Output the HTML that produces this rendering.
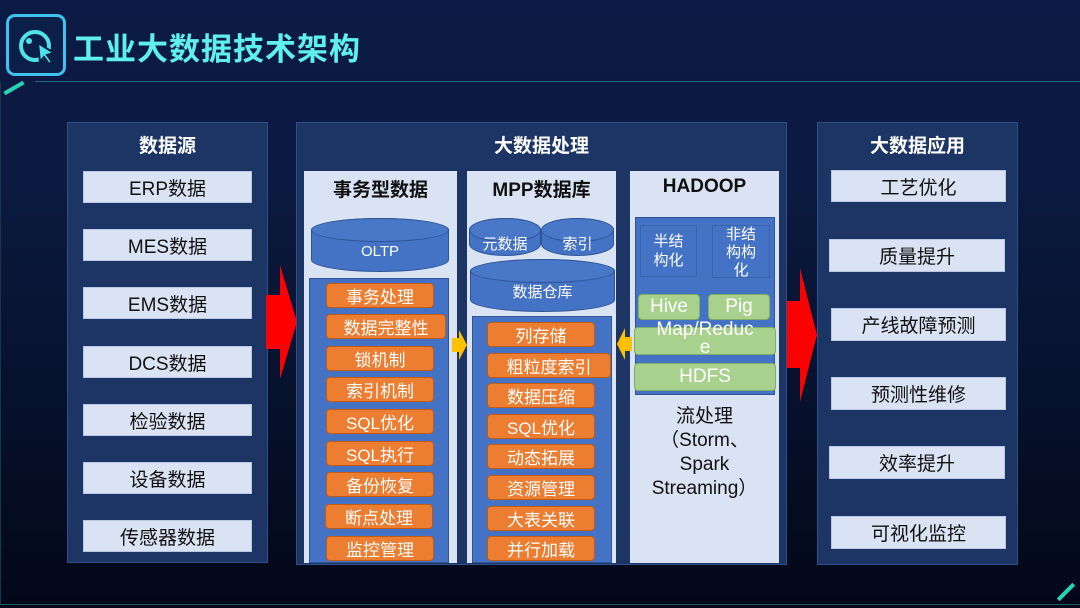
<!DOCTYPE html><html><head><meta charset="utf-8"><style>
*{margin:0;padding:0;box-sizing:border-box}
body{width:1080px;height:608px;overflow:hidden;position:relative;font-family:"Liberation Sans","Noto Sans CJK SC",sans-serif;background:linear-gradient(180deg,#0c1b45 0%,#0b1a40 30%,#06102a 70%,#030818 100%)}
.a{position:absolute}
.pan{position:absolute;background:#1c3564;border:1px solid #2e4f8a}
.it{position:absolute;background:#dae3f3;border:1px solid #b7c6e2;color:#111;font-size:19px;text-align:center;display:flex;align-items:center;justify-content:center}
.ttl{position:absolute;color:#fff;font-weight:bold;font-size:19px;text-align:center}
.col{position:absolute;background:#dae3f3}
.ct{position:absolute;font-weight:bold;font-size:19px;color:#111;text-align:center;width:100%;top:4px}
.blue{position:absolute;background:#4472c4;border:1px solid #2f5597}
.or{position:absolute;background:#ed7d31;border:1px solid #c55a11;border-radius:4px;color:#fff;font-size:17px;text-align:center;display:flex;align-items:center;justify-content:center;height:25px}
.gr{position:absolute;background:#a9d18e;border:1px solid #7fae62;border-radius:4px;color:#fff;font-size:19px;text-align:center;display:flex;align-items:center;justify-content:center;line-height:18px}
.cyl{position:absolute;background:#4472c4;border:1px solid #2f5597;border-radius:50%/12px;color:#fff;font-size:15px;display:flex;align-items:center;justify-content:center}
.cyl:before{content:"";position:absolute;left:-1px;right:-1px;top:-1px;height:22px;border-radius:50%;border:1px solid #2f5597;background:#4a78c8}
.cyl span{position:relative;top:6px}
</style></head><body>
<div class="a" style="left:6px;top:14px;width:60px;height:62px;border:3px solid #3fc3ee;border-radius:9px;background:#0c1f48"></div>
<svg class="a" style="left:16px;top:27px" width="42" height="40" viewBox="0 0 42 40"><circle cx="19" cy="19" r="14" fill="none" stroke="#4fe3e8" stroke-width="4"/><path d="M22 16 L38 26 L31 28 L36 35 L33 37 L28 30 L24 35Z" fill="#4fe3e8" stroke="#0c1f48" stroke-width="2"/><circle cx="13" cy="14" r="3" fill="#4fe3e8"/></svg>
<div class="a" style="left:73px;top:24px;color:#5ff0ec;font-size:31px;font-weight:bold;letter-spacing:1px">工业大数据技术架构</div>
<div class="a" style="left:35px;top:81px;width:1045px;height:1px;background:#1f6b7a"></div>
<div class="a" style="left:0;top:81px;width:1px;height:523px;background:#12384a"></div>
<div class="a" style="left:0;top:604px;width:1080px;height:1px;background:#1a5a68"></div>
<div class="a" style="left:3px;top:86px;width:22px;height:4px;background:#2ad3b0;transform:rotate(-30deg)"></div>
<div class="a" style="left:1055px;top:590px;width:22px;height:4px;background:#2ad3b0;transform:rotate(-45deg)"></div>

<div class="pan" style="left:67px;top:122px;width:201px;height:441px"></div>
<div class="ttl" style="left:67px;top:131px;width:201px">数据源</div>
<div class="it" style="left:83px;top:171px;width:169px;height:32px">ERP数据</div>
<div class="it" style="left:83px;top:229px;width:169px;height:32px">MES数据</div>
<div class="it" style="left:83px;top:287px;width:169px;height:32px">EMS数据</div>
<div class="it" style="left:83px;top:346px;width:169px;height:32px">DCS数据</div>
<div class="it" style="left:83px;top:404px;width:169px;height:32px">检验数据</div>
<div class="it" style="left:83px;top:462px;width:169px;height:32px">设备数据</div>
<div class="it" style="left:83px;top:520px;width:169px;height:32px">传感器数据</div>

<svg class="a" style="left:266px;top:265px" width="32" height="115"><polygon points="0,30 14,30 14,0 31,57 14,114 14,84 0,84" fill="#ff0000"/></svg>
<svg class="a" style="left:786px;top:268px" width="32" height="135"><polygon points="0,33 14,33 14,0 31,67 14,134 14,100 0,100" fill="#ff0000"/></svg>

<div class="pan" style="left:296px;top:122px;width:491px;height:443px"></div>
<div class="ttl" style="left:296px;top:131px;width:491px">大数据处理</div>

<div class="col" style="left:304px;top:171px;width:153px;height:392px"><div class="ct">事务型数据</div></div>
<div class="cyl" style="left:311px;top:218px;width:138px;height:54px"><span>OLTP</span></div>
<div class="blue" style="left:309px;top:278px;width:140px;height:285px"></div>
<div class="or" style="left:326px;top:283px;width:108px">事务处理</div>
<div class="or" style="left:326px;top:314px;width:120px">数据完整性</div>
<div class="or" style="left:326px;top:346px;width:108px">锁机制</div>
<div class="or" style="left:326px;top:377px;width:108px">索引机制</div>
<div class="or" style="left:326px;top:409px;width:108px">SQL优化</div>
<div class="or" style="left:326px;top:441px;width:108px">SQL执行</div>
<div class="or" style="left:326px;top:472px;width:108px">备份恢复</div>
<div class="or" style="left:325px;top:504px;width:108px">断点处理</div>
<div class="or" style="left:326px;top:536px;width:108px">监控管理</div>

<div class="col" style="left:467px;top:171px;width:149px;height:392px"><div class="ct">MPP数据库</div></div>
<div class="cyl" style="left:469px;top:218px;width:72px;height:38px"><span>元数据</span></div>
<div class="cyl" style="left:541px;top:218px;width:73px;height:38px"><span>索引</span></div>
<div class="cyl" style="left:470px;top:259px;width:145px;height:53px"><span>数据仓库</span></div>
<div class="blue" style="left:472px;top:316px;width:140px;height:247px"></div>
<div class="or" style="left:487px;top:322px;width:108px">列存储</div>
<div class="or" style="left:487px;top:353px;width:124px">粗粒度索引</div>
<div class="or" style="left:487px;top:383px;width:108px">数据压缩</div>
<div class="or" style="left:487px;top:414px;width:108px">SQL优化</div>
<div class="or" style="left:487px;top:444px;width:108px">动态拓展</div>
<div class="or" style="left:487px;top:475px;width:108px">资源管理</div>
<div class="or" style="left:487px;top:506px;width:108px">大表关联</div>
<div class="or" style="left:487px;top:536px;width:108px">并行加载</div>

<div class="col" style="left:630px;top:171px;width:149px;height:392px"><div class="ct" style="top:5px">HADOOP</div></div>
<div class="blue" style="left:635px;top:217px;width:140px;height:178px"></div>
<div class="a" style="left:640px;top:225px;width:57px;height:52px;border:1px solid #3a64ae;color:#fff;font-size:15px;text-align:center;line-height:19px;padding-top:6px">半结<br>构化</div>
<div class="a" style="left:712px;top:225px;width:58px;height:53px;border:1px solid #3a64ae;color:#fff;font-size:15px;text-align:center;line-height:18px">非结<br>构构<br>化</div>
<div class="gr" style="left:638px;top:294px;width:62px;height:26px">Hive</div>
<div class="gr" style="left:708px;top:294px;width:62px;height:26px">Pig</div>
<div class="gr" style="left:634px;top:327px;width:142px;height:28px;align-items:flex-start;overflow:visible"><span style="position:relative;top:-7px">Map/Reduc<br>e</span></div>
<div class="gr" style="left:634px;top:363px;width:142px;height:28px">HDFS</div>
<div class="a" style="left:630px;top:405px;width:149px;text-align:center;font-size:19px;color:#111;line-height:24px">流处理<br>（Storm、<br>Spark<br>Streaming）</div>

<svg class="a" style="left:452px;top:330px" width="16" height="30"><polygon points="0,8 7,8 7,0 15,15 7,30 7,22 0,22" fill="#ffc000"/></svg>
<svg class="a" style="left:617px;top:328px" width="16" height="32"><polygon points="15,9 8,9 8,0 0,16 8,32 8,23 15,23" fill="#ffc000"/></svg>

<div class="pan" style="left:817px;top:122px;width:201px;height:443px"></div>
<div class="ttl" style="left:817px;top:131px;width:201px">大数据应用</div>
<div class="it" style="left:831px;top:170px;width:175px;height:32px">工艺优化</div>
<div class="it" style="left:829px;top:239px;width:176px;height:33px">质量提升</div>
<div class="it" style="left:831px;top:308px;width:175px;height:33px">产线故障预测</div>
<div class="it" style="left:831px;top:377px;width:175px;height:33px">预测性维修</div>
<div class="it" style="left:829px;top:446px;width:176px;height:33px">效率提升</div>
<div class="it" style="left:831px;top:516px;width:175px;height:33px">可视化监控</div>
</body></html>
